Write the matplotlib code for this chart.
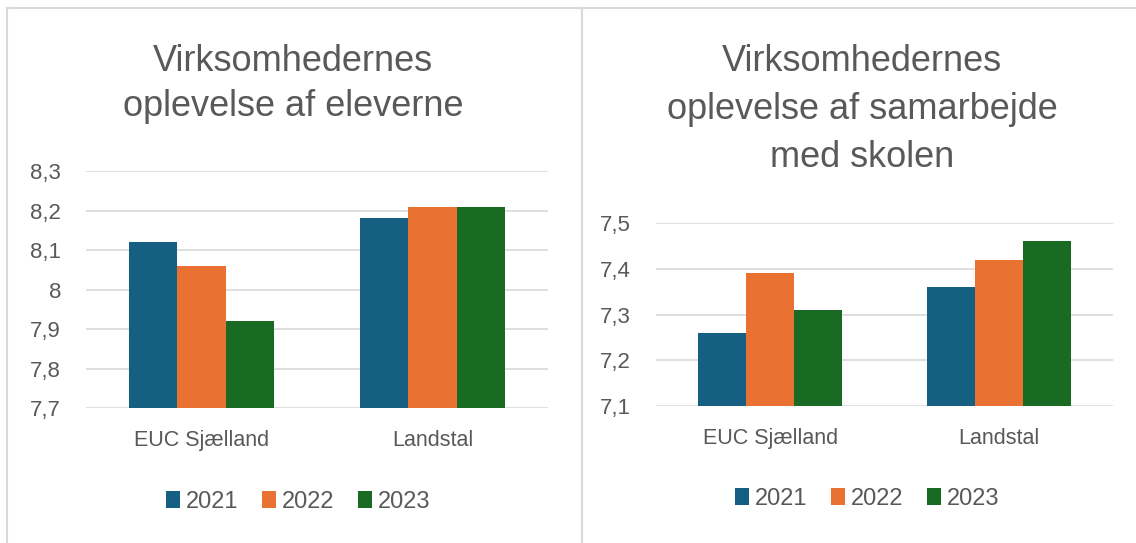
import matplotlib
matplotlib.use("Agg")
import matplotlib.pyplot as plt
from matplotlib.lines import Line2D
from matplotlib.patches import Patch
import numpy as np

plt.rcParams["font.family"] = ["Liberation Sans", "DejaVu Sans"]

categories = ["EUC Sjælland", "Landstal"]
years = ["2021", "2022", "2023"]
colors = ["#156082", "#E97132", "#196B24"]

# Virksomhedernes oplevelse af eleverne
elever_values = {
    "2021": [8.12, 8.18],
    "2022": [8.06, 8.21],
    "2023": [7.92, 8.21],
}
elever_ticks = [7.7, 7.8, 7.9, 8.0, 8.1, 8.2, 8.3]
elever_ticklabels = ["7,7", "7,8", "7,9", "8", "8,1", "8,2", "8,3"]

# Virksomhedernes oplevelse af samarbejde med skolen
samarbejde_values = {
    "2021": [7.26, 7.36],
    "2022": [7.39, 7.42],
    "2023": [7.31, 7.46],
}
samarbejde_ticks = [7.1, 7.2, 7.3, 7.4, 7.5]
samarbejde_ticklabels = ["7,1", "7,2", "7,3", "7,4", "7,5"]

TEXT = "#595959"
GRID = "#d9d9d9"
W, H = 1136, 543


def draw_panel(ax, values, ticks, ticklabels):
    x = np.arange(len(categories))
    width = 0.21
    for i, year in enumerate(years):
        ax.bar(x + (i - 1) * width, values[year], width, color=colors[i],
               bottom=0, zorder=3, linewidth=0)
    ax.set_xlim(-0.5, len(categories) - 0.5)
    ax.set_ylim(ticks[0], ticks[-1])
    ax.set_yticks(ticks)
    ax.set_yticklabels(ticklabels)
    ax.set_xticks(x)
    ax.set_xticklabels(categories)
    ax.tick_params(axis="y", length=0, pad=18, labelsize=16, labelcolor=TEXT)
    ax.tick_params(axis="x", length=0, pad=16, labelsize=15.5, labelcolor=TEXT)
    ax.yaxis.grid(True, color=GRID, linewidth=1.2, zorder=0)
    ax.set_axisbelow(True)
    for s in ax.spines.values():
        s.set_visible(False)


fig = plt.figure(figsize=(W / 100, H / 100), dpi=100)

ax1 = fig.add_axes([86 / W, 1 - 408 / H, 462 / W, 237 / H])
draw_panel(ax1, elever_values, elever_ticks, elever_ticklabels)

ax2 = fig.add_axes([656 / W, 1 - 406 / H, 457 / W, 183 / H])
draw_panel(ax2, samarbejde_values, samarbejde_ticks, samarbejde_ticklabels)

# titles
for i, line in enumerate(["Virksomhedernes", "oplevelse af eleverne"]):
    fig.text(293 / W, 1 - (71 + 45 * i) / H, line, ha="center", va="baseline",
             fontsize=26, color=TEXT)
for i, line in enumerate(["Virksomhedernes", "oplevelse af samarbejde", "med skolen"]):
    fig.text(862 / W, 1 - (71 + 48 * i) / H, line, ha="center", va="baseline",
             fontsize=26, color=TEXT)

# legends
handles = [Patch(facecolor=c, edgecolor="none") for c in colors]
for cx, cy in [(298, 502), (867, 499)]:
    fig.legend(handles, years, loc="center", bbox_to_anchor=(cx / W, 1 - cy / H),
               ncol=3, frameon=False, fontsize=17, labelcolor=TEXT,
               handlelength=0.6, handleheight=0.7, handletextpad=0.25,
               columnspacing=1.0)

# panel borders
fig.add_artist(Line2D([7 / W, 1], [1 - 8 / H, 1 - 8 / H], color=GRID, lw=1.5))
fig.add_artist(Line2D([7 / W, 7 / W], [0, 1 - 8 / H], color=GRID, lw=1.5))
fig.add_artist(Line2D([582 / W, 582 / W], [0, 1 - 8 / H], color=GRID, lw=1.5))

fig.savefig("out.png", dpi=100)
